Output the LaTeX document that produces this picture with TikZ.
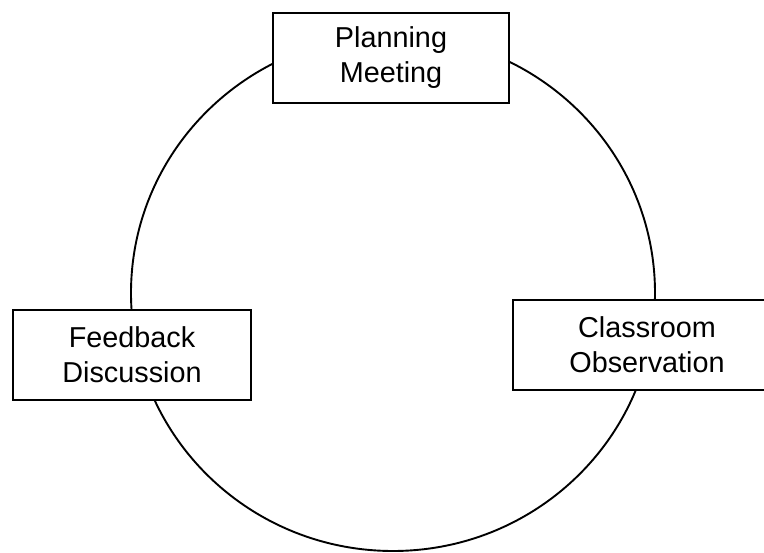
\documentclass[tikz,border=0pt]{standalone}
\usepackage{fontspec}
\setmainfont{Liberation Sans}
\begin{document}
\begin{tikzpicture}[x=1pt,y=-1pt,
  box/.style={draw=black, line width=1.5pt, fill=white, inner sep=0pt,
    align=center, font=\fontsize{28.8}{35}\selectfont},
  cyc/.style={draw=black, line width=1.9pt}]
\useasboundingbox (0,0) rectangle (764,553);
\clip (0,0) rectangle (764,553);
\fill[white] (0,0) rectangle (764,553);
\draw[cyc] (393,293) ellipse [x radius=262, y radius=258];
\node[box, minimum width=236pt, minimum height=90pt] (plan) at (391,58) {Planning\\Meeting};
\node[box, minimum width=238pt, minimum height=90pt] (feed) at (132,355) {Feedback\\Discussion};
\node[box, minimum width=268pt, minimum height=90pt] (obs) at (647,345) {Classroom\\Observation};
\end{tikzpicture}
\end{document}
